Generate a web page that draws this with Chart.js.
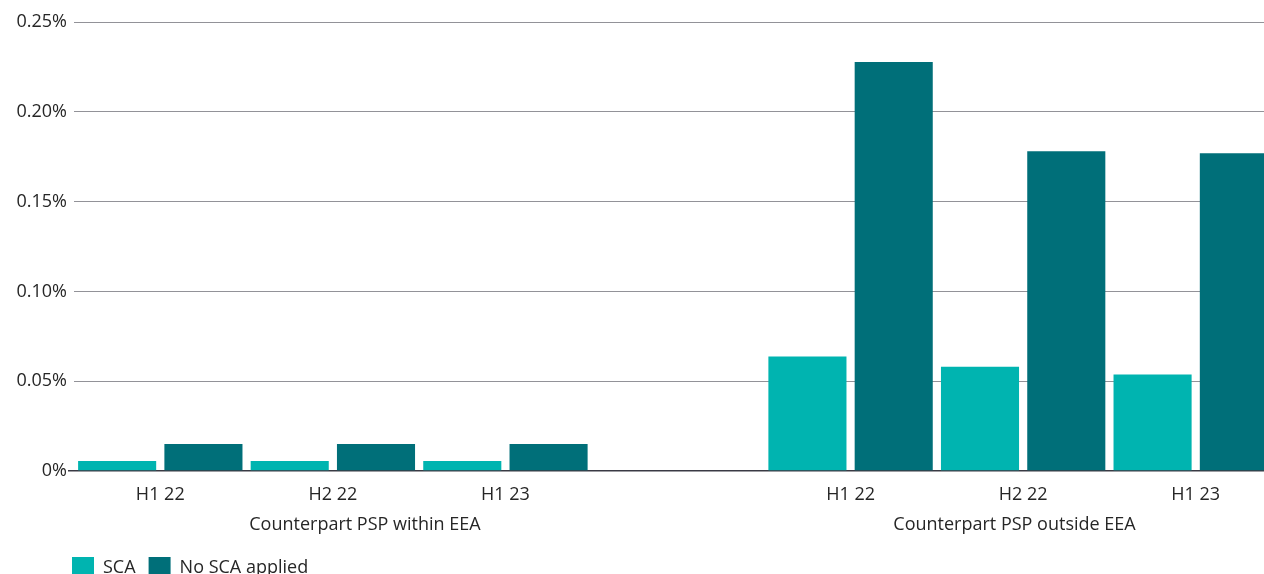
<!DOCTYPE html>
<html>
<head>
<meta charset="utf-8">
<script src="https://cdn.jsdelivr.net/npm/chart.js@4/dist/chart.umd.min.js"></script>
<style>
  html, body { margin: 0; padding: 0; background: #fff; overflow: hidden; }
  #wrap { position: absolute; left: 0; top: 0; width: 1282px; height: 600px; }
</style>
</head>
<body>
<div id="wrap"><canvas id="c" width="1282" height="600"></canvas></div>
<script>
// Periods shown for each counterpart group (blank slot separates the groups)
const categories = ['H1 22', 'H2 22', 'H1 23', '', 'H1 22', 'H2 22', 'H1 23'];
// Fraud rate in percent
const scaValues   = [0.0056, 0.0056, 0.0056, null, 0.0637, 0.0581, 0.0537];
const noScaValues = [0.0151, 0.0151, 0.0151, null, 0.2277, 0.1780, 0.1769];
const seriesNames = ['SCA', 'No SCA applied'];
const groupNames  = ['Counterpart PSP within EEA', 'Counterpart PSP outside EEA'];
const yTicks = [0, 0.05, 0.10, 0.15, 0.20, 0.25];

const TEXT = '#262626';
const FONT = { family: "'Open Sans', 'Noto Sans', sans-serif", size: 18 };

// Group captions under the period labels
const groupLabels = {
  id: 'groupLabels',
  afterDraw(chart, args, opts) {
    const { ctx, scales: { x }, chartArea } = chart;
    ctx.save();
    ctx.font = `${FONT.size}px ${FONT.family}`;
    ctx.fillStyle = TEXT;
    ctx.textAlign = 'center';
    ctx.textBaseline = 'middle';
    groupNames.forEach((name, i) => {
      ctx.fillText(name, x.getPixelForValue(opts.centers[i]), chartArea.bottom + opts.offset);
    });
    ctx.restore();
  }
};

// Indent the legend so it lines up under the y-axis labels
const legendIndent = {
  id: 'legendIndent',
  afterLayout(chart, args, opts) {
    if (chart.legend) chart.legend.left = opts.left;
  }
};

new Chart(document.getElementById('c'), {
  type: 'bar',
  data: {
    labels: categories,
    datasets: [
      { label: seriesNames[0], data: scaValues, backgroundColor: '#00b4b0' },
      { label: seriesNames[1], data: noScaValues, backgroundColor: '#006f79' }
    ]
  },
  options: {
    responsive: false,
    animation: false,
    devicePixelRatio: 1,
    categoryPercentage: 1.0,
    barPercentage: 0.905,
    layout: { padding: { left: 0, right: 0, top: 22, bottom: 11 } },
    scales: {
      x: {
        grid: { display: false, drawTicks: false },
        border: { display: false },
        ticks: { color: TEXT, font: FONT, padding: 13, maxRotation: 0, autoSkip: false },
        afterFit(s) { s.height = 73; }
      },
      y: {
        min: 0,
        max: 0.25,
        afterBuildTicks(s) { s.ticks = yTicks.map(v => ({ value: v })); },
        border: { display: false },
        grid: {
          color: c => (c.tick && c.tick.value === 0 ? '#3a3a44' : '#929298'),
          lineWidth: c => (c.tick && c.tick.value === 0 ? 1.5 : 1),
          tickColor: c => (c.tick && c.tick.value === 0 ? '#3a3a44' : 'rgba(0,0,0,0)'),
          tickLength: 6
        },
        ticks: {
          color: TEXT,
          font: FONT,
          padding: 1,
          callback: v => (v === 0 ? '0%' : v.toFixed(2) + '%')
        },
        afterFit(s) { s.width = 74; }
      }
    },
    plugins: {
      legend: {
        position: 'bottom',
        align: 'start',
        labels: { color: TEXT, font: FONT, boxWidth: 22, boxHeight: 22, padding: 13 }
      },
      tooltip: { enabled: false },
      groupLabels: { centers: [1.186, 4.95], offset: 54 },
      legendIndent: { left: 59 }
    }
  },
  plugins: [groupLabels, legendIndent]
});
</script>
</body>
</html>
